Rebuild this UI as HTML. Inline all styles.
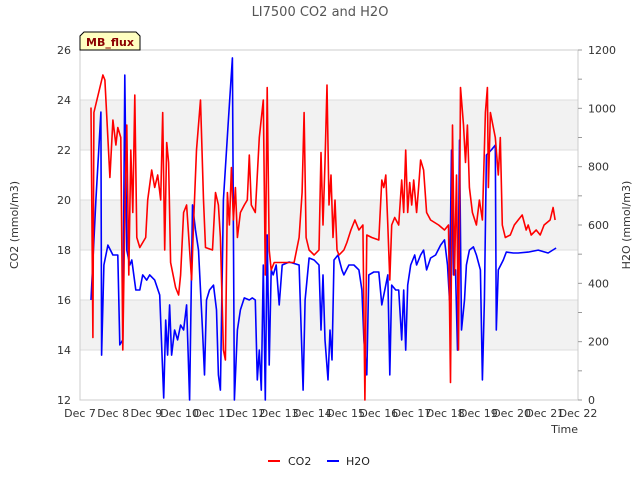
<!DOCTYPE html>
<html><head><meta charset="utf-8"><style>
body{margin:0;background:#fff;font-family:"Liberation Sans",sans-serif}
svg text{font-family:"DejaVu Sans","Liberation Sans",sans-serif}
</style></head><body>
<svg id="c" width="640" height="480" xmlns="http://www.w3.org/2000/svg">
<rect x="0" y="0" width="640" height="480" fill="#fff"/>
<g id="bands"></g>
<g id="grid"></g>
<rect x="80" y="50" width="498" height="350" fill="none" stroke="#ccc"/>
<g id="axes"></g>
<g id="series"></g>
<text x="320" y="16" text-anchor="middle" font-size="13" fill="#555">LI7500 CO2 and H2O</text>
<text transform="translate(18,225) rotate(-90)" text-anchor="middle" font-size="11" fill="#333">CO2 (mmol/m3)</text>
<text transform="translate(630,225) rotate(-90)" text-anchor="middle" font-size="11" fill="#333">H2O (mmol/m3)</text>
<text x="578" y="433" text-anchor="end" font-size="11" fill="#333">Time</text>
<g>
<path d="M80,50 L80,36 L84,32 L136,32 L140,36 L140,50 Z" fill="#ffffc0" stroke="#000" stroke-width="1"/>
<text x="110" y="46" text-anchor="middle" font-size="11" font-weight="bold" fill="#8b0000">MB_flux</text>
</g>
<g>
<line x1="268" y1="461" x2="280" y2="461" stroke="red" stroke-width="2"/>
<text x="288" y="465" font-size="11" fill="#222">CO2</text>
<line x1="327" y1="461" x2="339" y2="461" stroke="blue" stroke-width="2"/>
<text x="346" y="465" font-size="11" fill="#222">H2O</text>
</g>
</svg>
<script>
const xTickLabels=["Dec 7","Dec 8","Dec 9","Dec 10","Dec 11","Dec 12","Dec 13","Dec 14","Dec 15","Dec 16","Dec 17","Dec 18","Dec 19","Dec 20","Dec 21","Dec 22"];
const leftTicks=[12,14,16,18,20,22,24,26];
const rightTicks=[0,200,400,600,800,1000,1200];
const co2Days=[7.33,7.39,7.42,7.69,7.75,7.90,7.99,8.08,8.14,8.23,8.29,8.35,8.41,8.47,8.53,8.59,8.65,8.71,8.80,8.98,9.04,9.16,9.25,9.34,9.43,9.49,9.55,9.61,9.67,9.73,9.88,9.97,10.03,10.12,10.21,10.30,10.36,10.42,10.51,10.63,10.72,10.78,10.99,11.08,11.17,11.23,11.32,11.38,11.44,11.50,11.56,11.62,11.68,11.74,11.83,11.95,12.04,12.10,12.16,12.28,12.40,12.52,12.58,12.64,12.70,12.76,12.85,13.15,13.45,13.60,13.69,13.75,13.81,13.90,14.05,14.20,14.26,14.32,14.38,14.44,14.50,14.56,14.62,14.68,14.74,14.80,14.95,15.04,15.16,15.28,15.40,15.52,15.58,15.64,15.79,16.00,16.09,16.15,16.21,16.27,16.33,16.39,16.48,16.60,16.69,16.75,16.81,16.87,16.93,16.99,17.05,17.14,17.20,17.26,17.35,17.44,17.56,17.80,17.98,18.10,18.16,18.22,18.28,18.34,18.40,18.46,18.55,18.61,18.67,18.73,18.82,18.94,19.03,19.12,19.21,19.27,19.30,19.36,19.51,19.60,19.66,19.72,19.81,19.96,20.08,20.20,20.32,20.44,20.50,20.59,20.74,20.86,20.98,21.16,21.25,21.31];
const co2Values=[23.7,14.5,23.5,25.0,24.8,20.9,23.2,22.2,22.9,22.5,14.0,19.4,23.0,17.0,22.0,19.5,24.2,18.5,18.1,18.5,20.0,21.2,20.5,21.0,20.0,23.5,18.0,22.3,21.5,17.5,16.5,16.2,17.0,19.5,19.8,18.0,16.8,19.0,22.0,24.0,20.0,18.1,18.0,20.3,19.8,18.5,14.0,13.6,20.3,19.0,21.3,19.2,20.5,18.5,19.5,19.8,20.0,21.8,19.8,19.5,22.5,24.0,17.0,24.5,18.0,17.2,17.5,17.5,17.5,18.5,20.3,23.5,18.5,18.0,17.8,18.0,21.9,19.0,21.5,24.6,19.8,21.0,18.5,20.0,18.0,17.8,18.0,18.3,18.8,19.2,18.8,19.0,12.0,18.6,18.5,18.4,20.8,20.5,21.0,19.0,16.8,19.0,19.3,19.0,20.8,19.5,22.0,19.5,20.7,19.8,20.8,19.5,20.5,21.6,21.2,19.5,19.2,19.0,18.8,19.0,12.7,23.0,17.0,21.0,14.0,24.5,23.0,21.5,23.0,20.5,19.5,19.0,20.0,19.2,23.5,24.5,20.5,23.5,22.5,21.0,22.5,19.0,18.5,18.6,19.0,19.2,19.4,18.8,19.0,18.6,18.8,18.6,19.0,19.2,19.7,19.2];
const h2oDays=[7.33,7.48,7.63,7.65,7.72,7.84,7.99,8.14,8.20,8.29,8.35,8.41,8.50,8.56,8.68,8.80,8.89,9.01,9.10,9.25,9.40,9.52,9.58,9.64,9.70,9.76,9.85,9.94,10.03,10.12,10.21,10.30,10.39,10.48,10.57,10.69,10.75,10.81,10.90,11.02,11.11,11.17,11.23,11.32,11.47,11.59,11.65,11.74,11.83,11.95,12.10,12.19,12.28,12.34,12.40,12.46,12.52,12.58,12.64,12.70,12.76,12.82,12.91,13.00,13.09,13.30,13.60,13.72,13.78,13.90,14.05,14.20,14.26,14.32,14.38,14.47,14.53,14.59,14.65,14.77,14.89,14.95,15.10,15.25,15.40,15.49,15.55,15.64,15.70,15.85,16.00,16.09,16.18,16.27,16.33,16.39,16.51,16.60,16.69,16.75,16.81,16.87,16.96,17.08,17.14,17.26,17.35,17.44,17.56,17.71,17.86,17.98,18.07,18.13,18.19,18.25,18.31,18.37,18.43,18.49,18.58,18.64,18.73,18.85,18.94,19.06,19.12,19.18,19.24,19.39,19.51,19.54,19.60,19.75,19.84,20.05,20.20,20.50,20.80,21.10,21.34];
const h2oValues=[343,686,987,154,463,531,497,497,189,206,1114,514,463,480,377,377,429,411,429,411,360,7,274,154,326,154,240,206,257,240,326,0,669,583,514,240,86,343,377,394,309,86,34,686,960,1173,0,240,309,350,343,350,343,69,171,34,463,0,566,120,446,429,463,326,463,473,463,34,343,487,480,463,240,429,206,69,240,137,480,497,446,429,463,463,446,377,206,86,429,439,439,326,377,429,86,394,377,377,206,377,171,394,463,497,463,497,514,446,487,497,531,549,463,343,857,429,446,171,891,240,343,463,514,525,497,446,69,343,840,857,874,240,446,480,507,504,504,507,514,504,521];

const NS="http://www.w3.org/2000/svg";
const X0=80,X1=578,Y0=400,Y1=50;
function xs(d){return X0+(d-7)*(X1-X0)/15;}
function yl(v){return Y0-(v-12)*(Y0-Y1)/14;}
function yr(v){return Y0-v*(Y0-Y1)/1200;}
function mk(tag,attrs,parent,text){const e=document.createElementNS(NS,tag);for(const k in attrs)e.setAttribute(k,attrs[k]);if(text!==undefined)e.textContent=text;parent.appendChild(e);return e;}
const bands=document.getElementById('bands'),grid=document.getElementById('grid'),axes=document.getElementById('axes'),series=document.getElementById('series');
[[22,24],[18,20],[14,16]].forEach(b=>{
 const r=mk('rect',{x:X0,y:yl(b[1]),width:X1-X0,height:yl(b[0])-yl(b[1]),fill:'#f2f2f2'},bands);
 
 
});
leftTicks.forEach(v=>{
 const g=mk('line',{x1:X0,x2:X1,y1:yl(v),y2:yl(v),stroke:'#ddd'},grid);
 
 
 const t=mk('text',{x:X0-9,y:yl(v)+4,'text-anchor':'end','font-size':11,fill:'#333'},axes,String(v));
 
 
});
rightTicks.forEach(v=>{
 const t=mk('text',{x:X1+10,y:yr(v)+4,'font-size':11,fill:'#333'},axes,String(v));
 
 
});
for(let v=0;v<=1200;v+=100){
 const l=mk('line',{x1:X1,x2:X1+4,y1:yr(v),y2:yr(v),stroke:'#999'},axes);
 
 
}
xTickLabels.forEach((s,i)=>{
 const t=mk('text',{x:xs(7+i),y:Y0+17,'text-anchor':'middle','font-size':11,fill:'#333'},axes,s);
 
 
});
function line(days,vals,yf,color,name){
 const d=days.map((t,i)=>(i?'L':'M')+xs(t).toFixed(1)+','+yf(vals[i]).toFixed(1)).join(' ');
 const p=mk('path',{d:d,fill:'none',stroke:color,'stroke-width':1.6,'stroke-linejoin':'round'},series);
 
 
}
line(h2oDays,h2oValues,yr,'blue','h2o-line');
line(co2Days,co2Values,yl,'red','co2-line');
</script>
</body></html>
